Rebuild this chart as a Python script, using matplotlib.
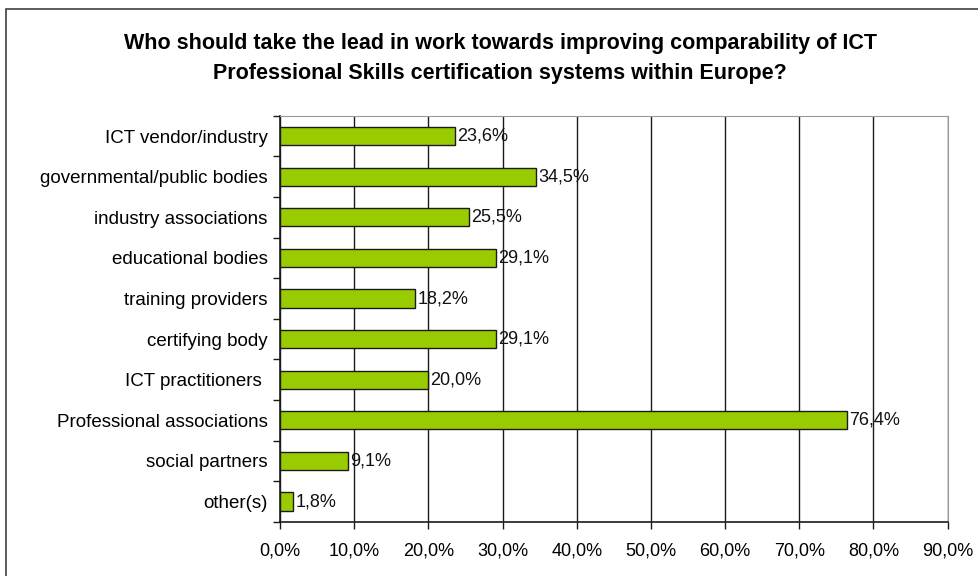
import numpy as np
import matplotlib.pyplot as plt
from matplotlib.patches import Rectangle

plt.rcParams['font.family'] = ['Liberation Sans', 'DejaVu Sans']

categories = ['ICT vendor/industry', 'governmental/public bodies', 'industry associations',
              'educational bodies', 'training providers', 'certifying body',
              'ICT practitioners ', 'Professional associations', 'social partners', 'other(s)']
values = [23.6, 34.5, 25.5, 29.1, 18.2, 29.1, 20.0, 76.4, 9.1, 1.8]
xticks = [0, 10, 20, 30, 40, 50, 60, 70, 80, 90]
title = ('Who should take the lead in work towards improving comparability of ICT\n'
         'Professional Skills certification systems within Europe?')

fig = plt.figure(figsize=(9.79, 5.76), dpi=100)
ax = fig.add_axes([0.286, 0.094, 0.682, 0.705])

# outer chart border (cut off on the right and bottom)
fig.patches.append(Rectangle((6 / 979, -0.1), 1.2, 1.1 - 9 / 576, transform=fig.transFigure,
                             fill=False, edgecolor='#404040', linewidth=1.2))

y = np.arange(len(categories))
ax.barh(y, values, height=0.45, color='#99cc00', edgecolor='#1a1a1a', linewidth=1.0, zorder=3)
for yi, v in zip(y, values):
    ax.text(v + 0.3, yi, f'{v:.1f}%'.replace('.', ','), va='center', ha='left',
            fontsize=13, color='#111111', zorder=4)

ax.set_ylim(len(categories) - 0.5, -0.5)
ax.set_xlim(0, 90)
ax.set_yticks(y)
ax.set_yticklabels(categories, fontsize=13.5)
ax.set_yticks(np.arange(-0.5, len(categories), 1), minor=True)
ax.tick_params(axis='y', which='major', length=0, pad=9)
ax.tick_params(axis='y', which='minor', length=5, width=1, color='#1a1a1a')
ax.set_xticks(xticks)
ax.set_xticklabels([f'{t:.1f}%'.replace('.', ',') for t in xticks], fontsize=13)
ax.tick_params(axis='x', length=5, width=1, color='#1a1a1a', pad=10)

ax.grid(axis='x', color='#1a1a1a', linewidth=1.0, zorder=0)
ax.spines['left'].set_color('#1a1a1a')
ax.spines['bottom'].set_color('#1a1a1a')
ax.spines['left'].set_linewidth(1.2)
ax.spines['bottom'].set_linewidth(1.2)
ax.spines['top'].set_color('#999999')
ax.spines['right'].set_color('#999999')
ax.set_axisbelow(True)

fig.text(0.511, 0.899, title, ha='center', va='center', fontsize=15.5, fontweight='bold',
         linespacing=1.55)

fig.savefig('out.png', dpi=100)
